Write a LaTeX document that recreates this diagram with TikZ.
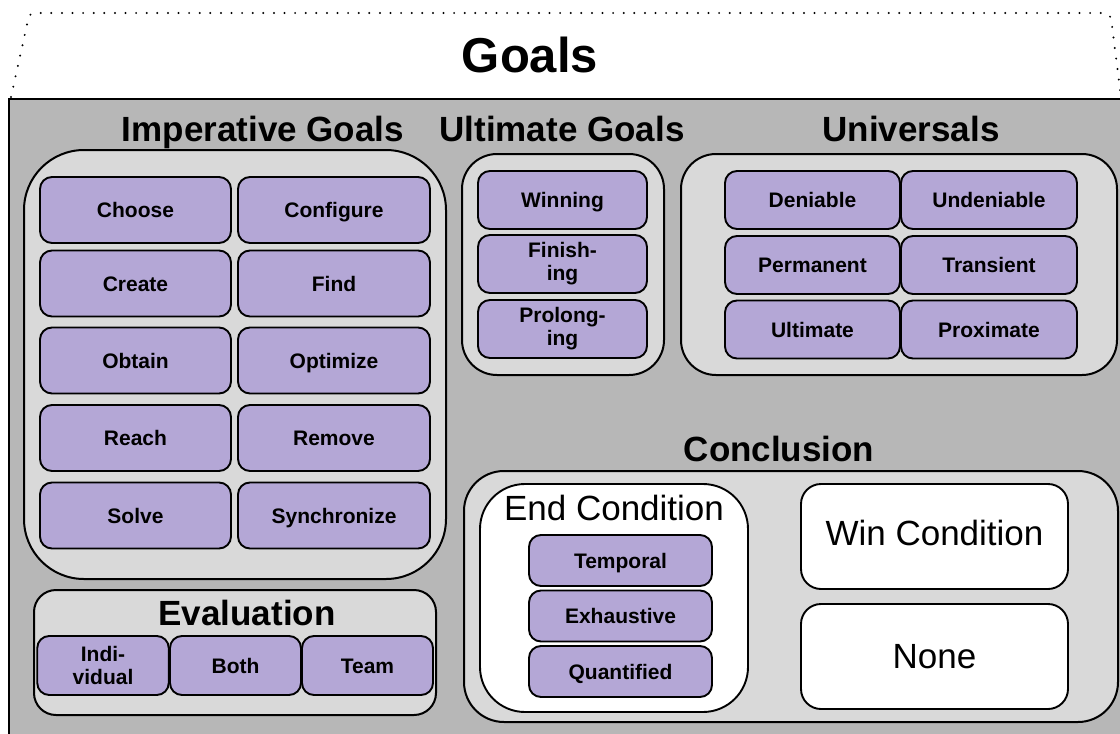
\documentclass[tikz,border=0pt]{standalone}
\usepackage{fontspec}
\setmainfont{Liberation Sans}
\definecolor{outergray}{HTML}{B7B7B7}
\definecolor{innergray}{HTML}{D9D9D9}
\definecolor{lilac}{HTML}{B4A7D6}
\begin{document}
\begin{tikzpicture}[x=1pt,y=-1pt,
    leaf/.style={draw, fill=lilac, line width=1.9pt, rounded corners=12pt, inner sep=0pt,
                 align=center, font=\fontsize{21}{23}\selectfont\bfseries,
                 text height=15pt, text depth=0pt},
    group/.style={draw, fill=innergray, line width=2pt, inner sep=0pt},
    whitebox/.style={draw, fill=white, line width=1.9pt, inner sep=0pt},
    head/.style={anchor=base, font=\fontsize{35}{40}\selectfont\bfseries},
    plaintext/.style={font=\fontsize{35}{40}\selectfont}]
                    \useasboundingbox (0,0) rectangle (1120,734);
                    \clip (0,0) rectangle (1120,734);
                    % dotted frame behind the title
                    \draw[line width=2.2pt, line cap=round, dash pattern=on 0pt off 10.6pt]
                        (11,97) -- (28,20) .. controls (29,15) and (31,13) .. (36,13) -- (1100,13)
                        .. controls (1106,13) and (1109,14) .. (1111,18) -- (1121,97);
                    \node (goals) at (530,72) [anchor=base, font=\fontsize{49}{54}\selectfont\bfseries] {Goals};
                    \draw[fill=outergray, line width=2.2pt] (9,99) rectangle (1140,760);

                    % imperative goals
                    \node (imphead) at (263,141) [head] {Imperative Goals};
                    \node (imp) at (235,364.5) [group, rounded corners=60pt, minimum width=422, minimum height=429] {};
                    \node (choose) at (135.5,210) [leaf, minimum width=191, minimum height=66] {Choose};
                    \node (configure) at (334,210) [leaf, minimum width=192, minimum height=66] {Configure};
                    \node (create) at (135.5,283.5) [leaf, minimum width=191, minimum height=66] {Create};
                    \node (find) at (334,283.5) [leaf, minimum width=192, minimum height=66] {Find};
                    \node (obtain) at (135.5,360.5) [leaf, minimum width=191, minimum height=66] {Obtain};
                    \node (optimize) at (334,360.5) [leaf, minimum width=192, minimum height=66] {Optimize};
                    \node (reach) at (135.5,438) [leaf, minimum width=191, minimum height=66] {Reach};
                    \node (remove) at (334,438) [leaf, minimum width=192, minimum height=66] {Remove};
                    \node (solve) at (135.5,515.5) [leaf, minimum width=191, minimum height=66] {Solve};
                    \node (synchronize) at (334,515.5) [leaf, minimum width=192, minimum height=66] {Synchronize};

                    % evaluation
                    \node (eval) at (235,652.5) [group, rounded corners=22pt, minimum width=402, minimum height=125] {};
                    \node (evalhead) at (247,625) [head] {Evaluation};
                    \node (individual) at (103,665.5) [leaf, text height=, text depth=, minimum width=131.5, minimum height=59] {Indi-\\vidual};
                    \node (both) at (235.5,665.5) [leaf, minimum width=131, minimum height=59] {Both};
                    \node (team) at (367.5,665.5) [leaf, minimum width=131, minimum height=59] {Team};

                    % ultimate goals
                    \node (ulthead) at (562,141) [head] {Ultimate Goals};
                    \node (ult) at (563,264.5) [group, rounded corners=35pt, minimum width=202, minimum height=221] {};
                    \node (winning) at (562.5,200) [leaf, minimum width=169, minimum height=58] {Winning};
                    \node (finishing) at (562.5,264) [leaf, text height=, text depth=, minimum width=169, minimum height=58] {Finish-\\ing};
                    \node (prolonging) at (562.5,329) [leaf, text height=, text depth=, minimum width=169, minimum height=58] {Prolong-\\ing};

                    % universals
                    \node (unihead) at (911,141) [head] {Universals};
                    \node (uni) at (899,264.5) [group, rounded corners=35pt, minimum width=436, minimum height=221] {};
                    \node (deniable) at (812.5,200) [leaf, minimum width=175, minimum height=58] {Deniable};
                    \node (undeniable) at (989,200) [leaf, minimum width=176, minimum height=58] {Undeniable};
                    \node (permanent) at (812.5,265) [leaf, minimum width=175, minimum height=58] {Permanent};
                    \node (transient) at (989,265) [leaf, minimum width=176, minimum height=58] {Transient};
                    \node (ultimate) at (812.5,329.5) [leaf, minimum width=175, minimum height=58] {Ultimate};
                    \node (proximate) at (989,329.5) [leaf, minimum width=176, minimum height=58] {Proximate};

                    % conclusion
                    \node (conchead) at (779,461) [head] {Conclusion};
                    \node (conc) at (791,596.5) [group, rounded corners=40pt, minimum width=654, minimum height=251] {};
                    \node (endcond) at (614,598) [whitebox, rounded corners=45pt, minimum width=268, minimum height=228] {};
                    \node (endhead) at (614,520) [plaintext, anchor=base] {End Condition};
                    \node (temporal) at (620.5,560.5) [leaf, minimum width=183, minimum height=51] {Temporal};
                    \node (exhaustive) at (620.5,616) [leaf, minimum width=183, minimum height=51] {Exhaustive};
                    \node (quantified) at (620.5,671.5) [leaf, minimum width=183, minimum height=51] {Quantified};
                    \node (wincond) at (934.5,536.5) [whitebox, plaintext, rounded corners=20pt, minimum width=267, minimum height=105, text depth=8pt] {Win Condition};
                    \node (none) at (934.5,656.5) [whitebox, plaintext, rounded corners=20pt, minimum width=267, minimum height=105] {None};
\end{tikzpicture}
\end{document}
